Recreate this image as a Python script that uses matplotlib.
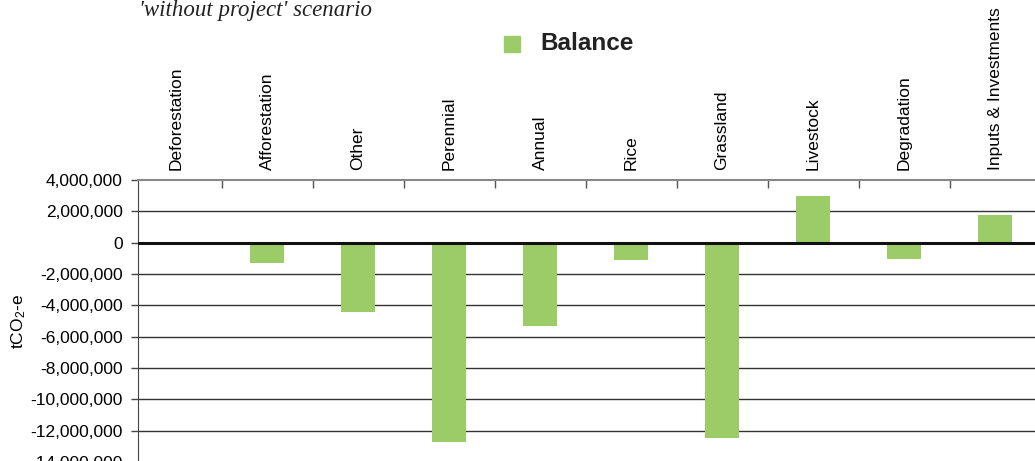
import matplotlib.pyplot as plt
import numpy as np
from matplotlib.ticker import FuncFormatter, FixedLocator

plt.rcParams['font.family'] = ['Liberation Sans', 'DejaVu Sans']
plt.rcParams['mathtext.fontset'] = 'custom'
plt.rcParams['mathtext.rm'] = 'Liberation Sans'
plt.rcParams['mathtext.it'] = 'Liberation Sans'

# data
categories = ['Deforestation', 'Afforestation', 'Other', 'Perennial', 'Annual',
              'Rice', 'Grassland', 'Livestock', 'Degradation', 'Inputs & Investments']
balance = [0, -1300000, -4450000, -12700000, -5300000,
           -1100000, -12450000, 2950000, -1050000, 1750000]
y_ticks = np.arange(-14000000, 4000001, 2000000)

green = '#9ccc67'

fig = plt.figure(figsize=(10.35, 4.61), dpi=100)
# axes run past the bottom and right edge, the picture is cropped there
ax = fig.add_axes([138/1035, -0.036, 0.88, 0.6457])

x = np.arange(len(categories))
ax.bar(x, balance, width=0.37, color=green, zorder=2, label='Balance')

ax.set_xlim(-0.418, 9.59)
ax.set_ylim(-15000000, 4000000)

ax.set_yticks(y_ticks)
ax.yaxis.set_major_formatter(FuncFormatter(lambda v, p: '{:,.0f}'.format(v)))
ax.tick_params(axis='y', direction='out', length=5, width=1, color='#444444',
               labelsize=12.5, pad=6)
for v in y_ticks:
    if v == 0:
        ax.axhline(0, color='#111111', lw=2.2, zorder=3)
    elif v != 4000000:
        ax.axhline(v, color='#333333', lw=1, zorder=1)

# category names on top, ticks between categories
ax.xaxis.tick_top()
ax.set_xticks(x)
ax.set_xticklabels(categories, rotation=90, fontsize=12.5)
ax.tick_params(axis='x', which='major', length=0, pad=7)
ax.xaxis.set_minor_locator(FixedLocator(np.arange(0.5, 9.6, 1)))
ax.tick_params(axis='x', which='minor', direction='in', length=6, width=1,
               color='#555555', top=True, bottom=False)

ax.spines['right'].set_visible(False)
ax.spines['bottom'].set_visible(False)
ax.spines['top'].set_color('#888888')
ax.spines['top'].set_linewidth(1.5)
ax.spines['left'].set_color('#444444')

fig.text(19/1035, 1 - 322/461, 'tCO$_2$-e', rotation=90, fontsize=12.5,
         ha='center', va='center')

# legend
fig.patches.append(plt.Rectangle((504/1035, 1 - 52/461), 16/1035, 16/461,
                                 transform=fig.transFigure, color=green))
fig.text(540/1035, 1 - 44/461, 'Balance', fontsize=17.5, fontweight='bold',
         color='#222222', va='center', ha='left')

fig.text(139/1035, 1 - 16/461, "'without project' scenario",
         family='Liberation Serif', style='italic', fontsize=16.5,
         color='#222222', va='baseline')

plt.savefig('out.png', dpi=100)
plt.close()
